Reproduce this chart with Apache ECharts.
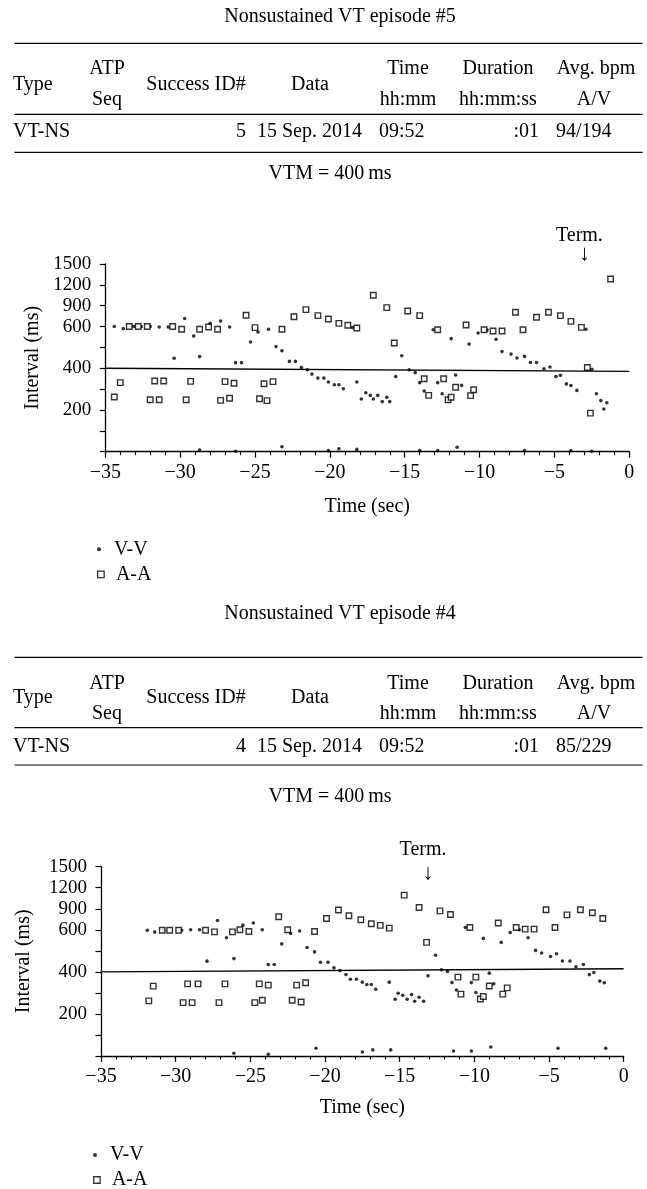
<!DOCTYPE html>
<html>
<head>
<meta charset="utf-8">
<script src="https://cdn.jsdelivr.net/npm/echarts/dist/echarts.min.js"></script>
<style>
html,body{margin:0;padding:0;background:#fff;}
#c{width:647px;height:1189px;}
</style>
</head>
<body>
<div id="c"></div>
<script>
// ---------- data ----------
const yTickValues = [0, 100, 200, 300, 400, 500, 600, 900, 1200, 1500];
const yTickShown  = [200, 400, 600, 900, 1200, 1500];
const xMin = -35, xMax = 0, xStep = 5;

const headerTop = ['ATP', 'Time', 'Duration', 'Avg. bpm'];
const headerMid = ['Type', 'Success ID#', 'Data'];
const headerBot = ['Seq', 'hh:mm', 'hh:mm:ss', 'A/V'];

const ep5Title = 'Nonsustained VT episode #5';
const ep5Row = ['VT-NS', '5', '15 Sep. 2014', '09:52', ':01', '94/194'];
const ep4Title = 'Nonsustained VT episode #4';
const ep4Row = ['VT-NS', '4', '15 Sep. 2014', '09:52', ':01', '85/229'];
const vtmText = 'VTM = 400\u2009ms';

const ep5Term = -3.0;
const ep4Term = -13.1;

const ep5VTM = [[-35, 400], [0, 385]];
const ep4VTM = [[-35, 400], [0, 415]];

const ep5VV = [[-34.4,600],[-33.8,590],[-33.1,600],[-32.6,600],[-32.0,600],[-31.4,598],[-30.8,598],[-30.4,448],[-29.7,717],[-29.1,555],[-28.7,456],[-28.7,8],[-28.0,646],[-27.3,680],[-26.7,598],[-26.3,427],[-26.3,2],[-25.9,427],[-25.3,526],[-24.8,574],[-24.1,587],[-23.6,504],[-23.2,484],[-23.2,24],[-22.7,433],[-22.3,433],[-21.9,404],[-21.5,393],[-21.2,372],[-20.8,353],[-20.4,353],[-20.1,334],[-20.1,5],
[-19.7,321],[-19.4,321],[-19.4,14],[-19.1,302],[-18.5,595],[-18.2,334],[-18.2,11],[-17.9,253],[-17.6,283],[-17.3,270],[-17.1,253],[-16.8,270],[-16.5,240],[-16.2,261],[-16.0,240],[-15.6,360],[-15.2,460],[-14.7,393],[-14.3,379],[-14.0,331],[-14.0,5],[-13.7,291],[-13.1,585],[-12.8,331],[-12.8,5],[-12.5,278],[-11.9,542],[-11.6,368],[-11.5,21],[-11.2,318],[-10.7,516],[-10.1,569],[-9.5,583],[-8.9,539],[-8.5,480],[-7.9,468],[-7.5,449],[-7.0,457],[-7.0,5],[-6.6,428],[-6.2,428],[-5.7,398],[-5.3,406],[-4.9,360],[-4.6,366],[-4.2,325],[-3.9,317],[-3.9,5],[-3.5,294],[-2.9,587],[-2.5,395],[-2.5,2],[-2.2,278],[-1.9,245],[-1.7,205],[-1.5,235]];

const ep5AA = [[-34.4,262],[-34.0,331],[-33.4,600],[-32.8,600],[-32.2,600],[-32.0,249],[-31.7,339],[-31.4,249],[-31.1,339],[-30.5,600],[-29.9,587],[-29.6,249],[-29.3,337],[-28.7,587],[-28.1,598],[-27.5,587],[-27.3,246],[-27.0,336],[-26.7,256],[-26.4,328],[-25.6,762],[-25.0,595],[-24.7,254],[-24.4,326],[-24.2,245],[-23.8,336],[-23.2,587],[-22.4,742],[-21.6,843],[-20.8,757],[-20.1,708],[-19.4,646],[-18.8,618],[-18.2,593],[-17.1,1050],[-16.2,872],[-15.7,521],[-14.8,824],[-14.0,757],[-13.7,350],[-13.4,270],[-12.8,585],[-12.4,350],[-12.1,249],[-11.9,261],[-11.6,309],[-10.9,623],[-10.6,269],[-10.4,297],[-9.7,585],[-9.1,579],[-8.5,579],[-7.6,805],[-7.1,585],[-6.2,733],[-5.4,805],[-4.6,757],[-3.9,675],[-3.2,596],[-2.8,404],[-2.6,185],[-1.25,1285]];

const ep4VV = [[-31.9,598],[-31.4,589],[-30.8,598],[-29.6,598],[-29.0,600],[-28.4,600],[-27.9,451],[-27.2,732],[-26.6,562],[-26.1,463],[-26.1,13],[-25.5,666],[-24.8,696],[-24.2,600],[-23.8,435],[-23.8,8],[-23.4,435],[-22.9,533],[-22.3,583],[-21.7,594],[-21.2,516],[-20.7,495],[-20.6,37],[-20.3,446],[-19.8,446],[-19.4,419],[-19.0,406],[-18.6,387],[-18.3,365],[-17.9,365],[-17.5,351],[-17.5,19],[-17.2,340],[-16.9,340],[-16.8,29],[-16.6,317],[-15.8,624],[-15.7,351],[-15.6,29],[-15.3,270],[-15.1,298],[-14.8,289],[-14.5,270],[-14.2,292],[-14.0,260],[-13.7,279],[-13.4,260],[-13.1,381],[-12.6,479],[-12.2,410],[-11.8,402],[-11.5,349],[-11.4,24],[-11.2,314],[-10.6,633],[-10.2,349],[-10.2,24],[-9.9,302],[-9.4,559],[-9.0,394],[-8.9,43],[-8.7,343],[-8.2,540],[-7.6,587],[-7.0,600],[-6.4,562],[-5.9,502],[-5.5,490],[-4.9,473],[-4.5,486],[-4.4,37],[-4.1,452],[-3.6,452],[-3.2,424],[-2.7,435],[-2.3,387],[-2.0,397],[-1.6,356],[-1.3,348],[-1.2,37]];

const ep4AA = [[-31.8,262],[-31.5,332],[-30.9,598],[-30.4,598],[-29.8,598],[-29.5,254],[-29.2,343],[-28.9,254],[-28.5,343],[-28.0,598],[-27.4,590],[-27.1,254],[-26.7,343],[-26.2,590],[-25.7,600],[-25.1,592],[-24.7,254],[-24.4,343],[-24.2,265],[-23.8,337],[-23.1,786],[-22.5,600],[-22.2,265],[-21.9,337],[-21.6,257],[-21.3,348],[-20.7,592],[-19.9,762],[-19.1,882],[-18.4,801],[-17.6,744],[-16.9,687],[-16.3,663],[-15.7,624],[-14.7,1095],[-13.7,918],[-13.2,540],[-12.3,870],[-11.6,819],[-11.1,375],[-10.9,294],[-10.3,633],[-9.9,375],[-9.6,271],[-9.4,283],[-9.0,333],[-8.4,696],[-8.1,294],[-7.8,324],[-7.2,633],[-6.6,609],[-6.0,609],[-5.2,885],[-4.6,633],[-3.8,813],[-2.9,885],[-2.1,843],[-1.4,762]];

// ---------- scale helpers ----------
// The y axis places the tick values at equal spacing (piecewise-linear scale).
function toAxis(ms) {
  for (let i = 1; i < yTickValues.length; i++) {
    if (ms <= yTickValues[i]) {
      const a = yTickValues[i - 1], b = yTickValues[i];
      return (i - 1) + (ms - a) / (b - a);
    }
  }
  return yTickValues.length - 1;
}
const conv = arr => arr.map(p => [p[0], toAxis(p[1])]);

const FONT = '"Liberation Serif", "Times New Roman", Times, serif';
const INK = '#000';

const chart = echarts.init(document.getElementById('c'), null, {renderer: 'canvas'});

function xAxisCfg(gridIndex, nameGap) {
  return {
    type: 'value', gridIndex, min: xMin, max: xMax, interval: xStep,
    name: 'Time (sec)', nameLocation: 'middle', nameGap,
    nameTextStyle: {fontFamily: FONT, fontSize: 20, color: INK},
    axisLine: {onZero: false, lineStyle: {color: INK, width: 1.3}},
    axisTick: {show: true, length: 6, lineStyle: {color: INK, width: 1.2}},
    minorTick: {show: true, splitNumber: 5, length: 3.5, lineStyle: {color: INK, width: 1.1}},
    splitLine: {show: false}, minorSplitLine: {show: false},
    axisLabel: {fontFamily: FONT, fontSize: 20, color: INK, margin: 11,
      formatter: v => (v < 0 ? '\u2212' + Math.abs(v) : String(v))}
  };
}
function yAxisCfg(gridIndex, nameGap) {
  return {
    type: 'value', gridIndex, min: 0, max: yTickValues.length - 1, interval: 1,
    name: 'Interval (ms)', nameLocation: 'middle', nameGap, nameRotate: 90,
    nameTextStyle: {fontFamily: FONT, fontSize: 20, color: INK},
    axisLine: {show: true, onZero: false, lineStyle: {color: INK, width: 1.3}},
    axisTick: {show: true, length: 5.5, lineStyle: {color: INK, width: 1.2}},
    splitLine: {show: false},
    axisLabel: {fontFamily: FONT, fontSize: 19, color: INK, margin: 14,
      formatter: v => {
        const t = yTickValues[Math.round(v)];
        return yTickShown.indexOf(t) >= 0 ? String(t) : '';
      }}
  };
}
function seriesFor(idx, vv, aa, vtm) {
  return [
    {type: 'line', name: 'VTM', xAxisIndex: idx, yAxisIndex: idx, data: conv(vtm),
     showSymbol: false, silent: true, lineStyle: {color: INK, width: 1.4}, z: 1},
    {type: 'scatter', name: 'V-V', xAxisIndex: idx, yAxisIndex: idx, data: conv(vv),
     symbol: 'circle', symbolSize: 3.6, itemStyle: {color: '#000'}, z: 2},
    {type: 'scatter', name: 'A-A', xAxisIndex: idx, yAxisIndex: idx, data: conv(aa),
     symbol: 'rect', symbolSize: 5.5, itemStyle: {color: '#fff', borderColor: '#000', borderWidth: 1.4}, z: 3}
  ];
}
function legendsFor(left, topVV, topAA) {
  return [
    {data: [{name: 'V-V', icon: 'circle', itemStyle: {color: '#000'}}], orient: 'vertical',
     left: left, top: topVV, padding: 0, itemWidth: 20, itemHeight: 4, selectedMode: false,
     textStyle: {fontFamily: FONT, fontSize: 20, color: INK}},
    {data: [{name: 'A-A', icon: 'path://M0,0L10,0L10,10L0,10Z',
             itemStyle: {color: '#fff', borderColor: '#000', borderWidth: 1.3}}], orient: 'vertical',
     left: left, top: topAA, padding: 0, itemWidth: 20, itemHeight: 6.5, symbolKeepAspect: true, selectedMode: false,
     textStyle: {fontFamily: FONT, fontSize: 20, color: INK}}
  ];
}

chart.setOption({
  backgroundColor: '#fff',
  animation: false,
  grid: [
    {left: 105.3, right: 647 - 629.3, top: 264, height: 451.7 - 264, outerBoundsMode: 'none', containLabel: false},
    {left: 101, right: 647 - 623.7, top: 866.7, height: 1056 - 866.7, outerBoundsMode: 'none', containLabel: false}
  ],
  xAxis: [xAxisCfg(0, 45), xAxisCfg(1, 42)],
  yAxis: [yAxisCfg(0, 62), yAxisCfg(1, 67)],
  legend: [...legendsFor(97, 539.3, 564.3), ...legendsFor(93, 1145, 1170)],
  series: [...seriesFor(0, ep5VV, ep5AA, ep5VTM), ...seriesFor(1, ep4VV, ep4AA, ep4VTM)]
});

// ---------- tables and annotations (graphic text) ----------
const TXT = (text, x, y, align, size) => ({
  type: 'text', x, y, silent: true,
  style: {text, font: (size || 20) + 'px ' + FONT, fill: INK, align: align || 'left', verticalAlign: 'middle'}
});
const RULE = (y) => ({type: 'line', silent: true, shape: {x1: 14.5, y1: y, x2: 642.5, y2: y},
  style: {stroke: INK, lineWidth: 1.2}});

function tableGraphics(title, row, Y) {
  const g = [];
  g.push(TXT(title, 340, Y.title, 'center'));
  g.push(RULE(Y.rule1), RULE(Y.rule2), RULE(Y.rule3));
  // header
  g.push(TXT(headerTop[0], 107, Y.top, 'center'));
  g.push(TXT(headerTop[1], 408, Y.top, 'center'));
  g.push(TXT(headerTop[2], 498, Y.top, 'center'));
  g.push(TXT(headerTop[3], 596, Y.top, 'center'));
  g.push(TXT(headerMid[0], 13, Y.mid, 'left'));
  g.push(TXT(headerMid[1], 196, Y.mid, 'center'));
  g.push(TXT(headerMid[2], 310, Y.mid, 'center'));
  g.push(TXT(headerBot[0], 107, Y.bot, 'center'));
  g.push(TXT(headerBot[1], 408, Y.bot, 'center'));
  g.push(TXT(headerBot[2], 498, Y.bot, 'center'));
  g.push(TXT(headerBot[3], 594, Y.bot, 'center'));
  // row
  g.push(TXT(row[0], 13, Y.row, 'left'));
  g.push(TXT(row[1], 246, Y.row, 'right'));
  g.push(TXT(row[2], 257, Y.row, 'left'));
  g.push(TXT(row[3], 379, Y.row, 'left'));
  g.push(TXT(row[4], 539, Y.row, 'right'));
  g.push(TXT(row[5], 556, Y.row, 'left'));
  g.push(TXT(vtmText, 330, Y.vtm, 'center'));
  return g;
}

const Y5 = {title: 16.7, rule1: 43.3, top: 69, mid: 85, bot: 100, rule2: 114.3, row: 131.7, rule3: 152.3, vtm: 173.3};
const Y4 = {title: 613.3, rule1: 657.3, top: 684, mid: 697.3, bot: 713.3, rule2: 727.7, row: 746.7, rule3: 765, vtm: 797};

function termGraphics(gridIndex, t, dText, dArrow) {
  const p = chart.convertToPixel({xAxisIndex: gridIndex, yAxisIndex: gridIndex}, [t, yTickValues.length - 1]);
  return [
    TXT('Term.', p[0] - 5, p[1] + dText, 'center'),
    TXT('\u2193', p[0], p[1] + dArrow, 'center', 22)
  ];
}

chart.setOption({
  graphic: [
    ...tableGraphics(ep5Title, ep5Row, Y5),
    ...tableGraphics(ep4Title, ep4Row, Y4),
    ...termGraphics(0, ep5Term, -28, -10),
    ...termGraphics(1, ep4Term, -17, 7)
  ]
});
</script>
</body>
</html>
